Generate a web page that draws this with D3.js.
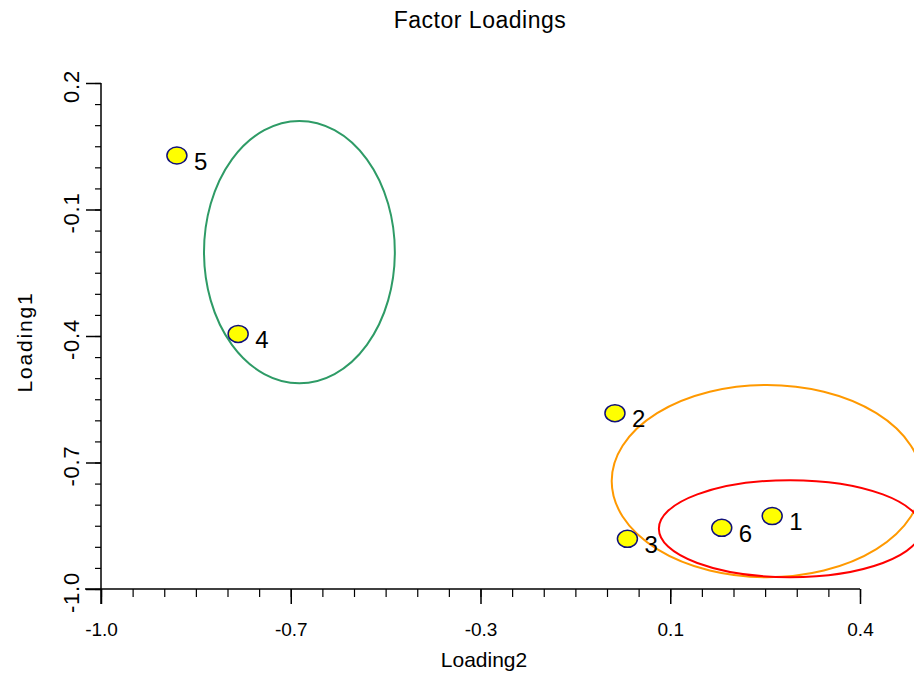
<!DOCTYPE html>
<html>
<head>
<meta charset="utf-8">
<script src="https://cdn.jsdelivr.net/npm/d3@7"></script>
<style>
  body { margin: 0; background: #fff; }
  svg { display: block; font-family: "Liberation Sans", Arial, sans-serif; }
</style>
</head>
<body>
<div id="chart"></div>
<script>
// Factor loadings (Loading2 on x, Loading1 on y)
const pointIds = ["1", "2", "3", "4", "5", "6"];
const loading2 = [0.238, -0.052, -0.029, -0.747, -0.860, 0.145];
const loading1 = [-0.827, -0.583, -0.881, -0.395, 0.028, -0.855];

// cluster ellipses (data units)
const ellipseColors = ["#2e9b66", "#ff9900", "#ff0000"];
const ellipseCx = [-0.634, 0.228, 0.271];
const ellipseCy = [-0.201, -0.744, -0.857];
const ellipseRx = [0.176, 0.286, 0.242];
const ellipseRy = [0.311, 0.228, 0.115];

// axis ticks
const xTicks = [-1.0, -0.65, -0.3, 0.05, 0.4];
const xTickLabels = ["-1.0", "-0.7", "-0.3", "0.1", "0.4"];
const yTicks = [0.2, -0.1, -0.4, -0.7, -1.0];
const yTickLabels = ["0.2", "-0.1", "-0.4", "-0.7", "-1.0"];

const width = 914, height = 674;
const margin = { top: 83, right: 54, bottom: 85, left: 101 };

const svg = d3.select("#chart").append("svg")
    .attr("width", width)
    .attr("height", height);

const x = d3.scaleLinear()
    .domain([-1.0, 0.4])
    .range([margin.left, width - margin.right]);

const y = d3.scaleLinear()
    .domain([-1.0, 0.2])
    .range([height - margin.bottom, margin.top]);

// minor ticks: 6 steps between each pair of majors
const xMinor = d3.range(0, 25).map(i => -1.0 + i * 0.35 / 6);
const yMinor = d3.range(0, 25).map(i => -1.0 + i * 0.3 / 6);

// title
svg.append("text")
    .attr("x", 480)
    .attr("y", 28)
    .attr("text-anchor", "middle")
    .style("font-size", "23px")
    .style("letter-spacing", "0.5px")
    .text("Factor Loadings");

// x axis
const xAxisG = svg.append("g")
    .attr("transform", `translate(0,${y(-1.0)})`);

xAxisG.append("g")
    .call(d3.axisBottom(x).tickValues(xMinor).tickSize(8).tickFormat(""))
    .call(g => g.select(".domain").remove())
    .selectAll("line").attr("stroke", "#000").attr("stroke-width", 1.2);

xAxisG.append("g")
    .call(d3.axisBottom(x).tickValues(xTicks).tickSize(15)
        .tickFormat((d, i) => xTickLabels[i]))
    .call(g => g.select(".domain").remove())
    .call(g => g.selectAll("line").attr("stroke", "#000").attr("stroke-width", 1.5))
    .selectAll("text")
    .attr("y", 34)
    .attr("dy", "0.71em")
    .attr("fill", "#000")
    .style("font-size", "19px")
    .style("font-family", "Liberation Sans, Arial, sans-serif");

xAxisG.append("line")
    .attr("x1", x(-1.0) - 16)
    .attr("x2", x(0.4))
    .attr("stroke", "#000")
    .attr("stroke-width", 1.5);

// y axis
const yAxisG = svg.append("g")
    .attr("transform", `translate(${x(-1.0)},0)`);

yAxisG.append("g")
    .call(d3.axisLeft(y).tickValues(yMinor).tickSize(6).tickFormat(""))
    .call(g => g.select(".domain").remove())
    .selectAll("line").attr("stroke", "#000").attr("stroke-width", 1.2);

yAxisG.append("g")
    .call(d3.axisLeft(y).tickValues(yTicks).tickSize(15)
        .tickFormat((d, i) => yTickLabels[i]))
    .call(g => g.select(".domain").remove())
    .call(g => g.selectAll("line").attr("stroke", "#000").attr("stroke-width", 1.5))
    .selectAll("text")
    .attr("x", 0)
    .attr("dy", 0)
    .attr("transform", "translate(-22,3) rotate(-90)")
    .attr("text-anchor", "middle")
    .attr("fill", "#000")
    .style("font-size", "22px")
    .style("letter-spacing", "0.8px")
    .style("font-family", "Liberation Sans, Arial, sans-serif");

yAxisG.append("line")
    .attr("y1", y(0.2))
    .attr("y2", y(-1.0) + 15)
    .attr("stroke", "#000")
    .attr("stroke-width", 1.5);

// axis titles
svg.append("text")
    .attr("x", 484)
    .attr("y", 667)
    .attr("text-anchor", "middle")
    .style("font-size", "21px")
    .text("Loading2");

svg.append("text")
    .attr("transform", "translate(32,342) rotate(-90)")
    .attr("text-anchor", "middle")
    .style("font-size", "21px")
    .style("letter-spacing", "1.8px")
    .text("Loading1");

// ellipses
const ellipses = ellipseColors.map((c, i) => ({
    color: c, cx: ellipseCx[i], cy: ellipseCy[i], rx: ellipseRx[i], ry: ellipseRy[i]
}));

svg.append("g")
    .selectAll("ellipse")
    .data(ellipses)
    .join("ellipse")
    .attr("cx", d => x(d.cx))
    .attr("cy", d => y(d.cy))
    .attr("rx", d => x(d.cx + d.rx) - x(d.cx))
    .attr("ry", d => y(d.cy) - y(d.cy + d.ry))
    .attr("fill", "none")
    .attr("stroke", d => d.color)
    .attr("stroke-width", 2);

// points
const points = pointIds.map((id, i) => ({ id, lx: loading2[i], ly: loading1[i] }));

svg.append("g")
    .selectAll("ellipse")
    .data(points)
    .join("ellipse")
    .attr("cx", d => x(d.lx))
    .attr("cy", d => y(d.ly))
    .attr("rx", 10)
    .attr("ry", 8.5)
    .attr("fill", "#ffff00")
    .attr("stroke", "#10107a")
    .attr("stroke-width", 1.5);

svg.append("g")
    .selectAll("text")
    .data(points)
    .join("text")
    .attr("x", d => x(d.lx) + 17)
    .attr("y", d => y(d.ly) + 14)
    .style("font-size", "24px")
    .text(d => d.id);
</script>
</body>
</html>
